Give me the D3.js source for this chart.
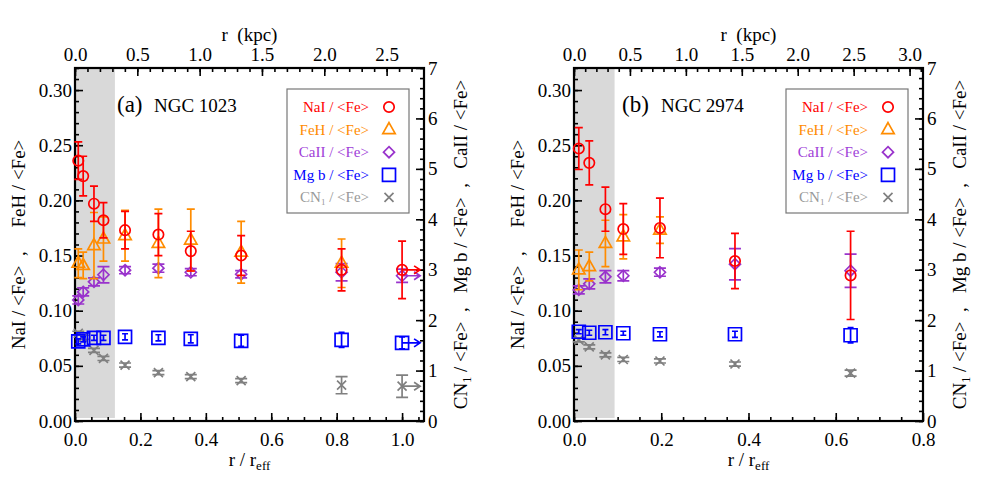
<!DOCTYPE html>
<html>
<head>
<meta charset="utf-8">
<script src="https://cdn.jsdelivr.net/npm/d3@7"></script>
<style>
body { margin: 0; background: #fff; }
text { font-family: "Liberation Serif", "DejaVu Serif", serif; }
</style>
</head>
<body>
<div id="chart"></div>
<script>
// ---- panel (a) NGC 1023 ----
var rA      = [0.010, 0.025, 0.058, 0.087, 0.153, 0.255, 0.354, 0.508, 0.815, 1.000];
var naiA    = [0.236, 0.222, 0.197, 0.182, 0.173, 0.169, 0.154, 0.150, 0.137, 0.137];
var naiErrA = [0.017, 0.018, 0.016, 0.016, 0.017, 0.019, 0.018, 0.018, 0.019, 0.026];
var fehA    = [0.143, 0.141, 0.159, 0.165, 0.168, 0.161, 0.164, 0.153, 0.143, null];
var fehErrA = [0.013, 0.012, 0.030, 0.020, 0.023, 0.031, 0.028, 0.028, 0.022, null];
var caiiA    = [2.40, 2.56, 2.76, 2.90, 2.99, 3.03, 2.95, 2.91, 2.95, 2.88];
var caiiErrA = [0.08, 0.08, 0.08, 0.16, 0.07, 0.08, 0.07, 0.07, 0.17, 0.13];
var mgbA    = [1.58, 1.62, 1.65, 1.65, 1.67, 1.65, 1.63, 1.59, 1.61, 1.55];
var mgbErrA = [0.05, 0.05, 0.05, 0.05, 0.06, 0.06, 0.08, 0.11, 0.15, 0.12];
var cn1A    = [1.74, 1.66, 1.40, 1.24, 1.11, 0.96, 0.88, 0.80, 0.71, 0.69];
var cn1ErrA = [0.04, 0.04, 0.04, 0.04, 0.04, 0.04, 0.04, 0.04, 0.17, 0.22];
var limitA  = [0, 0, 0, 0, 0, 0, 0, 0, 0, 1];

// ---- panel (b) NGC 2974 ----
var rB      = [0.011, 0.035, 0.072, 0.113, 0.197, 0.369, 0.634];
var naiB    = [0.247, 0.234, 0.192, 0.174, 0.175, 0.145, 0.132];
var naiErrB = [0.019, 0.020, 0.020, 0.023, 0.027, 0.025, 0.040];
var fehB    = [0.137, 0.140, 0.161, 0.167, 0.173, null, null];
var fehErrB = [0.018, 0.013, 0.021, 0.020, 0.012, null, null];
var caiiB    = [2.60, 2.72, 2.86, 2.88, 2.95, 3.11, 2.98];
var caiiErrB = [0.08, 0.10, 0.12, 0.10, 0.08, 0.31, 0.33];
var mgbB    = [1.77, 1.75, 1.76, 1.74, 1.72, 1.72, 1.70];
var mgbErrB = [0.04, 0.05, 0.05, 0.04, 0.05, 0.06, 0.15];
var cn1B    = [1.61, 1.47, 1.31, 1.22, 1.19, 1.13, 0.95];
var cn1ErrB = [0.04, 0.04, 0.04, 0.04, 0.04, 0.04, 0.06];
var limitB  = [0, 0, 0, 0, 0, 0, 0];

var legendNames = ["NaI / <Fe>", "FeH / <Fe>", "CaII / <Fe>", "Mg b / <Fe>", "CN1 / <Fe>"];

var width = 997, height = 485;
var top_ = 68, bottom = 421, pw = 349;
var red = "#ff0000", orange = "#ff8c00", purple = "#9933cc", blue = "#0000ff", gray = "#808080";

var svg = d3.select("#chart").append("svg")
    .attr("width", width)
    .attr("height", height);

var yL = d3.scaleLinear().domain([0, 0.32]).range([bottom, top_]);
var yR = d3.scaleLinear().domain([0, 7]).range([bottom, top_]);

function marker(g, type, cx, cy, color) {
    var p;
    if (type == "circle") {
        g.append("circle").attr("cx", cx).attr("cy", cy).attr("r", 5.2)
            .attr("fill", "none").attr("stroke", color).attr("stroke-width", 1.7);
        return;
    }
    if (type == "triangle") p = "M0,-7L6.2,4L-6.2,4Z";
    if (type == "diamond") p = "M0,-5.5L5.5,0L0,5.5L-5.5,0Z";
    if (type == "square") p = "M-6.5,-6.5H6.5V6.5H-6.5Z";
    if (type == "x") p = "M-4.5,-4.5L4.5,4.5M-4.5,4.5L4.5,-4.5";
    g.append("path").attr("d", p)
        .attr("transform", "translate(" + cx + "," + cy + ")")
        .attr("fill", "none").attr("stroke", color).attr("stroke-width", 1.7);
}

function series(g, x, y, r, vals, errs, limits, type, color, capw) {
    vals.forEach(function(v, i) {
        if (v == null) return;
        var cx = x(r[i]);
        var y1 = y(v - errs[i]), y2 = y(v + errs[i]);
        g.append("path")
            .attr("d", "M" + cx + "," + y1 + "V" + y2 +
                "M" + (cx - capw) + "," + y1 + "H" + (cx + capw) +
                "M" + (cx - capw) + "," + y2 + "H" + (cx + capw))
            .attr("fill", "none").attr("stroke", color).attr("stroke-width", 1.7);
        marker(g, type, cx, y(v), color);
        if (limits && limits[i]) {
            g.append("path")
                .attr("d", "M0,0H18M12,-4L18,0L12,4")
                .attr("transform", "translate(" + cx + "," + y(v) + ")")
                .attr("fill", "none").attr("stroke", color).attr("stroke-width", 1.7);
        }
    });
}

function axis(g, ax, tr) {
    var a = g.append("g").attr("transform", tr).call(ax);
    a.select(".domain").remove();
    a.attr("font-family", "Liberation Serif").attr("font-size", 19);
    a.selectAll("line").attr("stroke-width", 1.6);
    a.selectAll("text").attr("fill", "#000");
    return a;
}

function panel(p) {
    var left = p.left, right = left + pw;
    var g = svg.append("g");
    var x = d3.scaleLinear().domain([0, p.xMax]).range([left, right]);
    var k = d3.scaleLinear().domain([0, p.kpcMax]).range([left, right]);

    // seeing / inner region
    g.append("rect")
        .attr("x", x(0)).attr("y", top_)
        .attr("width", x(p.shade) - x(0)).attr("height", bottom - top_ - 3)
        .attr("fill", "#d9d9d9");

    // minor + major ticks, pointing inwards
    axis(g, d3.axisBottom(x).tickValues(d3.range(0, p.xMax, 0.05)).tickSize(-4).tickFormat(""), "translate(0," + bottom + ")");
    axis(g, d3.axisBottom(x).tickValues(d3.range(0, p.xMax + 0.01, 0.2)).tickSize(-8).tickPadding(12).tickFormat(d3.format(".1f")), "translate(0," + bottom + ")");
    axis(g, d3.axisTop(k).tickValues(d3.range(0, p.kpcMax, 0.1)).tickSize(-4).tickFormat(""), "translate(0," + top_ + ")");
    axis(g, d3.axisTop(k).tickValues(d3.range(0, p.kpcMax + 0.01, 0.5)).tickSize(-8).tickPadding(7).tickFormat(d3.format(".1f")), "translate(0," + top_ + ")");
    axis(g, d3.axisLeft(yL).tickValues(d3.range(0, 0.3201, 0.01)).tickSize(-4).tickFormat(""), "translate(" + left + ",0)");
    axis(g, d3.axisLeft(yL).tickValues(d3.range(0, 0.3001, 0.05)).tickSize(-8).tickPadding(3).tickFormat(d3.format(".2f")), "translate(" + left + ",0)");
    axis(g, d3.axisRight(yR).tickValues(d3.range(0, 7.01, 0.2)).tickSize(-4).tickFormat(""), "translate(" + right + ",0)");
    axis(g, d3.axisRight(yR).tickValues(d3.range(0, 8, 1)).tickSize(-8).tickPadding(4).tickFormat(d3.format("d")), "translate(" + right + ",0)");

    g.append("rect")
        .attr("x", left).attr("y", top_).attr("width", pw).attr("height", bottom - top_)
        .attr("fill", "none").attr("stroke", "#000").attr("stroke-width", 2.2);

    // data, right axis series first
    series(g, x, yR, p.r, p.cn1, p.cn1Err, p.limit, "x", gray, 6);
    series(g, x, yR, p.r, p.mgb, p.mgbErr, p.limit, "square", blue, 3);
    series(g, x, yR, p.r, p.caii, p.caiiErr, p.limit, "diamond", purple, 6);
    series(g, x, yL, p.r, p.feh, p.fehErr, null, "triangle", orange, 4);
    series(g, x, yL, p.r, p.nai, p.naiErr, p.limit, "circle", red, 4);

    // titles
    var cx = (left + right) / 2, cy = (top_ + bottom) / 2;
    g.append("text").attr("x", cx).attr("y", 41).attr("text-anchor", "middle")
        .attr("font-size", 19).attr("xml:space", "preserve").text("r  (kpc)");
    var xt = g.append("text").attr("x", cx).attr("y", 466).attr("text-anchor", "middle")
        .attr("font-size", 19);
    xt.append("tspan").text("r / r");
    xt.append("tspan").attr("font-size", 13).attr("dy", 4).text("eff");

    var lt = g.append("text").attr("transform", "translate(" + (left - 50) + "," + cy + ") rotate(-90)")
        .attr("text-anchor", "middle").attr("font-size", 19).attr("xml:space", "preserve")
        .text("NaI / <Fe>  ,     FeH / <Fe>");
    var rt = g.append("text").attr("transform", "translate(" + (right + 43) + "," + cy + ") rotate(-90)")
        .attr("text-anchor", "middle").attr("font-size", 19).attr("xml:space", "preserve");
    rt.append("tspan").text("CN");
    rt.append("tspan").attr("font-size", 12).attr("dy", 4).text("1");
    rt.append("tspan").attr("dy", -4).text(" / <Fe>  ,   Mg b / <Fe>  ,   CaII / <Fe>");

    g.append("text").attr("x", left + p.labelDx).attr("y", 112).attr("font-size", 23).text(p.tag);
    g.append("text").attr("x", left + p.nameDx).attr("y", 112).attr("font-size", 19).text(p.name);

    // legend
    var lx = right - 137, lr = right - 15;
    g.append("rect").attr("x", lx).attr("y", 89).attr("width", lr - lx).attr("height", 124)
        .attr("fill", "#fff").attr("stroke", "#777").attr("stroke-width", 1.2);
    var lcol = [red, orange, "#a040d8", blue, "#999"];
    var mcol = [red, orange, purple, blue, gray];
    var types = ["circle", "triangle", "diamond", "square", "x"];
    legendNames.forEach(function(n, i) {
        var yy = 107 + i * 22.6;
        var t = g.append("text").attr("x", lr - 40).attr("y", yy + 5).attr("text-anchor", "end")
            .attr("font-size", 15).attr("fill", lcol[i]);
        if (i == 4) {
            t.append("tspan").text("CN");
            t.append("tspan").attr("font-size", 9).attr("dy", 3).text("1");
            t.append("tspan").attr("dy", -3).text(" / <Fe>");
        } else {
            t.text(n);
        }
        marker(g, types[i], lr - 20, yy, mcol[i]);
    });
}

panel({left: 75, xMax: 1.067, kpcMax: 2.8, shade: 0.122, tag: "(a)", name: "NGC 1023",
    labelDx: 42, nameDx: 79, r: rA, nai: naiA, naiErr: naiErrA, feh: fehA, fehErr: fehErrA,
    caii: caiiA, caiiErr: caiiErrA, mgb: mgbA, mgbErr: mgbErrA, cn1: cn1A, cn1Err: cn1ErrA, limit: limitA});
panel({left: 574, xMax: 0.8, kpcMax: 3.12, shade: 0.093, tag: "(b)", name: "NGC 2974",
    labelDx: 48, nameDx: 87, r: rB, nai: naiB, naiErr: naiErrB, feh: fehB, fehErr: fehErrB,
    caii: caiiB, caiiErr: caiiErrB, mgb: mgbB, mgbErr: mgbErrB, cn1: cn1B, cn1Err: cn1ErrB, limit: limitB});
</script>
</body>
</html>
